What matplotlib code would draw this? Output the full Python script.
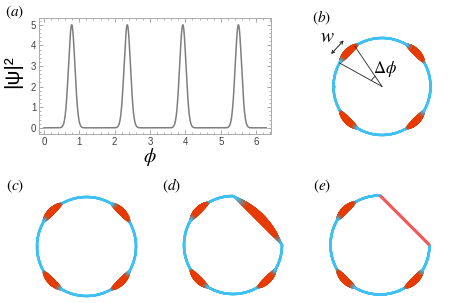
"""
Four-peak density |psi|^2 on a ring, plus ring sketches (b)-(e).
"""
import numpy as np
import matplotlib
matplotlib.use("Agg")
import matplotlib.pyplot as plt
from matplotlib.collections import LineCollection
from matplotlib.colors import to_rgb
from matplotlib.ticker import MultipleLocator

plt.rcParams["mathtext.fontset"] = "stix"
plt.rcParams["font.family"] = ["Liberation Sans", "DejaVu Sans"]

# panel (a): peak positions / height / width
peak_centers = [0.785, 2.356, 3.927, 5.498]
peak_height = 5.0
peak_sigma = 0.09
x_ticks = [0, 1, 2, 3, 4, 5, 6]
y_ticks = [0, 1, 2, 3, 4, 5]

# ring sketches: blob angles (deg) and the cut-out arc
blob_angles = [45, 135, 225, 315]
blob_half = 15          # half length of a blob, deg
cut_arc = (0, 90)       # arc replaced by a chord in (d) and (e)
dphi_lines = [124, 151] # the two radii marking delta-phi in (b)

BLUE = "#3ec1f2"
RED = "#e63a00"
GRAY = "#808080"
CHORD = "#f05a5a"

W, H = 457, 303
fig = plt.figure(figsize=(W / 100, H / 100), dpi=100)


def px_axes(left, top, right, bottom):
    return fig.add_axes([left / W, 1 - bottom / H, (right - left) / W, (bottom - top) / H])


# ---------------- (a) ----------------
ax = px_axes(39, 18, 271, 134)
phi = np.linspace(0, 2 * np.pi, 1500)
psi2 = np.zeros_like(phi)
for c in peak_centers:
    psi2 += peak_height * np.exp(-0.5 * ((phi - c) / peak_sigma) ** 2)
ax.plot(phi, psi2, color="#7f7f7f", lw=1.1)
ax.set_xlim(-0.14, 6.42)
ax.set_ylim(-0.3, 5.33)
ax.set_xticks(x_ticks)
ax.set_yticks(y_ticks)
ax.xaxis.set_minor_locator(MultipleLocator(0.2))
ax.yaxis.set_minor_locator(MultipleLocator(0.2))
ax.tick_params(which="both", direction="in", top=True, right=True, color="#999999",
               labelsize=7, labelcolor="#444444", pad=2)
ax.tick_params(which="major", length=3, width=0.6)
ax.tick_params(which="minor", length=1.5, width=0.5)
for s in ax.spines.values():
    s.set_color("#aaaaaa")
    s.set_linewidth(0.7)
fig.text(13 / W, 1 - 72 / H, "|ψ|²", rotation=90, ha="center", va="center",
         fontsize=15)
fig.text(150 / W, 1 - 157 / H, r"$\phi$", ha="center", va="center", fontsize=14)


# ---------------- ring helpers ----------------
def ring_ax(cx, cy, r):
    h = 70
    a = px_axes(cx - h, cy - h, cx + h, cy + h)
    a.set_xlim(-h / r, h / r)
    a.set_ylim(-h / r, h / r)
    a.axis("off")
    return a


def profile(d, half):
    return np.clip(1 - (d / half) ** 2, 0, 1)


def blob_color(t):
    b, g, r = np.array(to_rgb(BLUE)), np.array(to_rgb(GRAY)), np.array(to_rgb(RED))
    out = []
    for v in t:
        if v <= 0:
            out.append(b)
        elif v < 0.3:
            k = v / 0.3
            out.append(b * (1 - k) + g * k)
        else:
            k = min(1, (v - 0.3) / 0.3)
            out.append(g * (1 - k) + r * k)
    return out


def draw_path(a, x, y, t, base=1.8, extra=3.4):
    pts = np.column_stack([x, y])
    segs = np.stack([pts[:-1], pts[1:]], axis=1)
    tm = 0.5 * (t[:-1] + t[1:])
    lc = LineCollection(segs, colors=blob_color(tm), linewidths=base + extra * tm,
                        capstyle="round", joinstyle="round")
    a.add_collection(lc)


def draw_ring(a, start=0, end=360, blobs=blob_angles):
    th = np.linspace(start, end, 900)
    t = np.zeros_like(th)
    for b in blobs:
        d = (th - b + 180) % 360 - 180
        t = np.maximum(t, profile(d, blob_half))
    r = np.deg2rad(th)
    draw_path(a, np.cos(r), np.sin(r), t)


def label(x, y, s):
    fig.text(x / W, 1 - y / H, s, ha="center", va="center", fontsize=11)


# ---------------- (b) ----------------
ab = ring_ax(382, 86.5, 48.5)
draw_ring(ab)
for ang in dphi_lines:
    r = np.deg2rad(ang)
    ab.plot([0, np.cos(r)], [0, np.sin(r)], color="#222222", lw=0.6)
arc = np.deg2rad(np.linspace(dphi_lines[0], dphi_lines[1], 30))
ab.plot(0.25 * np.cos(arc), 0.25 * np.sin(arc), color="#222222", lw=0.6)
ab.text(0.06, 0.36, r"$\Delta\phi$", ha="center", va="center", fontsize=12)
ab.annotate("", xy=(-0.79, 0.95), xytext=(-1.05, 0.67),
            arrowprops=dict(arrowstyle="<->", color="#222222", lw=0.7,
                            mutation_scale=5, shrinkA=0, shrinkB=0))
ab.text(-1.12, 1.0, r"$w$", ha="center", va="center", fontsize=14)
label(322, 18, r"$(b)$")
label(15, 12, r"$(a)$")

# ---------------- (c) ----------------
ac = ring_ax(86.5, 246.5, 49.5)
draw_ring(ac)
label(15, 186, r"$(c)$")

# ---------------- (d) ----------------
ad = ring_ax(233, 245, 49)
draw_ring(ad, cut_arc[1], 360 + cut_arc[0], blob_angles[1:])
s = np.linspace(0, 1, 300)
p0, p2 = np.array([1.0, 0.0]), np.array([0.0, 1.0])
p1 = 0.5 * (p0 + p2) + 0.16 * np.array([0.7071, 0.7071])
cx = (1 - s) ** 2 * p0[0] + 2 * s * (1 - s) * p1[0] + s ** 2 * p2[0]
cy = (1 - s) ** 2 * p0[1] + 2 * s * (1 - s) * p1[1] + s ** 2 * p2[1]
draw_path(ad, cx, cy, profile(s - 0.5, 0.45), extra=4.5)
label(172, 186, r"$(d)$")

# ---------------- (e) ----------------
ae = ring_ax(380, 245, 49.5)
draw_ring(ae, cut_arc[1], 360 + cut_arc[0], blob_angles[1:])
ae.plot([1, 0], [0, 1], color=CHORD, lw=2.3, solid_capstyle="butt")
label(322, 186, r"$(e)$")

fig.savefig("out.png", dpi=100)
